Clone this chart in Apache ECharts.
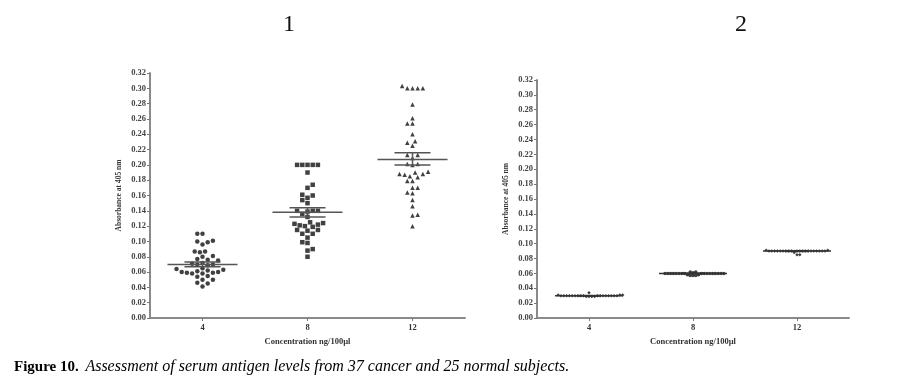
<!DOCTYPE html>
<html><head><meta charset="utf-8">
<script src="https://cdn.jsdelivr.net/npm/echarts@6/dist/echarts.min.js"></script>
<style>html,body{margin:0;padding:0;background:#fff}#c{width:912px;height:390px}</style>
</head><body><div id="c"></div>
<script>
// ---------- data ----------
const categories = ['4', '8', '12'];
const yMin = 0, yMax = 0.32, yStep = 0.02;

// Panel 1: 37 cancer subjects
const cancer4 = [0.110,0.110,0.101,0.099,0.096,0.100,0.087,0.087,0.086,0.081,0.080,0.077,0.076,0.075,
  0.072,0.071,0.070,0.070,0.069,0.065,0.064,0.063,0.062,0.061,0.060,0.060,0.059,0.059,0.058,0.058,
  0.055,0.054,0.050,0.050,0.046,0.045,0.041];
const cancer8 = [0.200,0.200,0.200,0.200,0.200,0.190,0.174,0.170,0.161,0.160,0.157,0.154,0.150,
  0.140,0.140,0.140,0.139,0.136,0.132,0.125,0.124,0.123,0.122,0.121,0.120,0.119,0.115,0.114,0.115,
  0.110,0.110,0.105,0.099,0.098,0.090,0.088,0.080];
const cancer12 = [0.300,0.300,0.300,0.300,0.303,0.279,0.261,0.254,0.254,0.240,0.231,0.229,0.225,
  0.213,0.213,0.209,0.201,0.201,0.200,0.191,0.190,0.188,0.188,0.187,0.185,0.184,0.179,0.179,
  0.170,0.170,0.164,0.163,0.154,0.146,0.135,0.134,0.120];
const cancerMean = [0.070, 0.138, 0.207];
const cancerSemLow = [0.067, 0.132, 0.200];
const cancerSemHigh = [0.073, 0.144, 0.216];

// Panel 2: 25 normal subjects
const normal4 = [0.030,0.030,0.029,0.030,0.031,0.030,0.030,0.029,0.030,0.031,0.030,0.030,0.034,
  0.030,0.029,0.030,0.030,0.031,0.030,0.030,0.029,0.030,0.030,0.030,0.030];
const normal8 = [0.060,0.060,0.060,0.060,0.062,0.060,0.058,0.057,0.057,0.060,0.057,0.058,0.060,
  0.060,0.062,0.060,0.060,0.060,0.060,0.060,0.061,0.060,0.060,0.060,0.060];
const normal12 = [0.090,0.090,0.090,0.090,0.090,0.091,0.090,0.090,0.088,0.085,0.085,0.090,0.090,
  0.090,0.090,0.091,0.090,0.090,0.090,0.090,0.090,0.090,0.090,0.090,0.090];
const normalMean = [0.030, 0.060, 0.090];
const normalSemLow = [0.0298, 0.0597, 0.0895];
const normalSemHigh = [0.0302, 0.0603, 0.0905];

// ---------- chart ----------
const SERIF = '"Liberation Serif", "DejaVu Serif", serif';
const chart = echarts.init(document.getElementById('c'), null, {renderer: 'canvas'});

function yAxisCfg(gridIndex) {
  return {
    gridIndex, type: 'value', min: yMin, max: yMax, interval: yStep,
    name: 'Absorbance at 405 nm', nameLocation: 'middle', nameGap: 27, nameRotate: 90,
    nameTextStyle: {fontFamily: SERIF, fontSize: 7.5, fontWeight: 'bold', color: '#333'},
    axisLine: {show: true, lineStyle: {color: '#8a8a8a', width: 2}},
    axisTick: {show: true, length: 3, lineStyle: {color: '#777'}},
    axisLabel: {fontFamily: SERIF, fontSize: 8.5, fontWeight: 'bold', color: '#444', margin: 4,
      formatter: v => v.toFixed(2)},
    splitLine: {show: false}
  };
}
function xAxisCfg(gridIndex, gap) {
  return {
    gridIndex, type: 'category', data: categories, boundaryGap: true,
    name: 'Concentration ng/100µl', nameLocation: 'middle', nameGap: gap,
    nameTextStyle: {fontFamily: SERIF, fontSize: 8.5, fontWeight: 'bold', color: '#333'},
    axisLine: {show: true, lineStyle: {color: '#8a8a8a', width: 2}},
    axisTick: {show: true, alignWithLabel: true, length: 3, lineStyle: {color: '#777'}},
    axisLabel: {fontFamily: SERIF, fontSize: 8.5, fontWeight: 'bold', color: '#333', margin: 5},
    splitLine: {show: false}
  };
}

function summary(means, lo, hi) {
  return means.map((m, i) => [i, m, lo[i], hi[i]]);
}
function meanSeries(idx, data, hwMean, hwSem, color) {
  return {
    type: 'custom', xAxisIndex: idx, yAxisIndex: idx, z: 5, silent: true,
    data,
    renderItem: function (params, api) {
      const c = api.value(0);
      const pm = api.coord([c, api.value(1)]);
      const pl = api.coord([c, api.value(2)]);
      const ph = api.coord([c, api.value(3)]);
      const st = {stroke: color, lineWidth: 1.5};
      return {type: 'group', children: [
        {type: 'line', shape: {x1: pm[0] - hwMean, y1: pm[1], x2: pm[0] + hwMean, y2: pm[1]}, style: st},
        {type: 'line', shape: {x1: pl[0] - hwSem, y1: pl[1], x2: pl[0] + hwSem, y2: pl[1]}, style: st},
        {type: 'line', shape: {x1: ph[0] - hwSem, y1: ph[1], x2: ph[0] + hwSem, y2: ph[1]}, style: st},
        {type: 'line', shape: {x1: pm[0], y1: pl[1], x2: pm[0], y2: ph[1]}, style: st}
      ]};
    }
  };
}

const base = {
  animation: false,
  backgroundColor: '#fff',
  grid: [
    {left: 150, top: 73, width: 315, height: 245},
    {left: 537, top: 80, width: 312, height: 238}
  ],
  xAxis: [xAxisCfg(0, 15), xAxisCfg(1, 18)],
  yAxis: [yAxisCfg(0), yAxisCfg(1)],
  graphic: [
    {type: 'text', x: 289, y: 25,
      style: {text: '1', fontFamily: SERIF, fontSize: 24, fill: '#111', align: 'center', verticalAlign: 'middle'}},
    {type: 'text', x: 741, y: 25,
      style: {text: '2', fontFamily: SERIF, fontSize: 24, fill: '#111', align: 'center', verticalAlign: 'middle'}},
    {type: 'text', left: 14, top: 359,
      style: {
        text: '{b|Figure 10.}  {i|Assessment of serum antigen levels from 37 cancer and 25 normal subjects.}',
        rich: {
          b: {fontFamily: SERIF, fontSize: 15, fontWeight: 'bold', fill: '#000'},
          i: {fontFamily: SERIF, fontSize: 16, fontStyle: 'italic', fill: '#000'}
        }
      }
    }
  ],
  series: []
};
chart.setOption(base);

// beeswarm layout: each point gets the nearest horizontal offset free of overlap (pixel space)
function swarm(values, yAxisIndex, d) {
  const items = values.map((v, i) => ({v, i, py: chart.convertToPixel({yAxisIndex}, v)}));
  items.sort((a, b) => b.py - a.py);
  const off = new Array(values.length).fill(0);
  const placed = [];
  const s = d / 2;
  let flip = 1;
  items.forEach(it => {
    for (let k = 0; k < 200; k++) {
      const cands = k === 0 ? [0] : [flip * k * s, -flip * k * s];
      let found = null;
      for (const x of cands) {
        if (placed.every(p => (p.x - x) ** 2 + (p.y - it.py) ** 2 >= d * d - 0.01)) { found = x; break; }
      }
      if (found !== null) {
        off[it.i] = found; placed.push({x: found, y: it.py});
        if (found !== 0) flip = -Math.sign(found);
        break;
      }
    }
  });
  return off;
}
function dots(values, cat, idx, symbol, size, d) {
  const off = swarm(values, idx, d);
  return {
    type: 'scatter', xAxisIndex: idx, yAxisIndex: idx, symbol, symbolSize: size, z: 3,
    itemStyle: {color: '#111'},
    data: values.map((v, i) => ({value: [cat, v], symbolOffset: [off[i], 0]}))
  };
}

chart.setOption({series: [
  dots(cancer4, 0, 0, 'circle', 4.5, 5.2),
  dots(cancer8, 1, 0, 'rect', 4.5, 5.2),
  dots(cancer12, 2, 0, 'triangle', 4.5, 5.2),
  dots(normal4, 0, 1, 'diamond', 3.5, 2.8),
  dots(normal8, 1, 1, 'circle', 3.5, 2.8),
  dots(normal12, 2, 1, 'diamond', 3.5, 2.8),
  meanSeries(0, summary(cancerMean, cancerSemLow, cancerSemHigh), 35, 18, '#555'),
  meanSeries(1, summary(normalMean, normalSemLow, normalSemHigh), 34, 12, '#333')
]});
</script></body></html>
